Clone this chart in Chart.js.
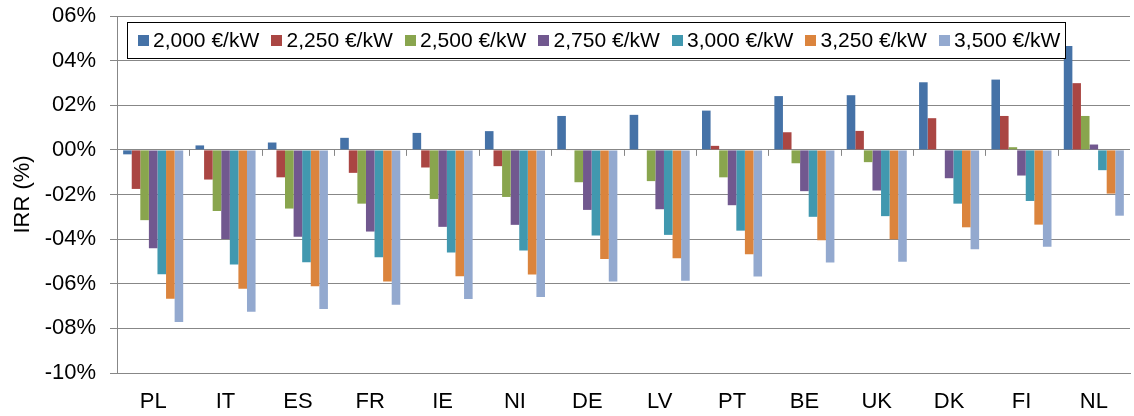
<!DOCTYPE html>
<html><head><meta charset="utf-8">
<script src="https://cdn.jsdelivr.net/npm/chart.js@4"></script>
<style>html,body{margin:0;padding:0;background:#fff}#wrap{width:1134px;height:416px;position:relative}</style>
</head><body><div id="wrap"><canvas id="c"></canvas></div>
<script>
const categories = ['PL','IT','ES','FR','IE','NI','DE','LV','PT','BE','UK','DK','FI','NL'];
const seriesLabels = ['2,000 €/kW','2,250 €/kW','2,500 €/kW','2,750 €/kW','3,000 €/kW','3,250 €/kW','3,500 €/kW'];
const s2000 = [-0.2, 0.2, 0.33, 0.54, 0.76, 0.84, 1.52, 1.57, 1.76, 2.41, 2.45, 3.03, 3.15, 4.66];
const s2250 = [-1.75, -1.33, -1.23, -1.03, -0.79, -0.73, -0.02, 0, 0.18, 0.79, 0.85, 1.42, 1.52, 2.99];
const s2500 = [-3.15, -2.74, -2.63, -2.41, -2.2, -2.11, -1.45, -1.4, -1.23, -0.6, -0.55, 0, 0.12, 1.52];
const s2750 = [-4.41, -3.99, -3.89, -3.66, -3.45, -3.36, -2.69, -2.66, -2.48, -1.85, -1.82, -1.27, -1.15, 0.24];
const s3000 = [-5.57, -5.14, -5.04, -4.81, -4.6, -4.51, -3.84, -3.81, -3.62, -3.0, -2.97, -2.41, -2.29, -0.91];
const s3250 = [-6.67, -6.22, -6.11, -5.9, -5.66, -5.59, -4.89, -4.86, -4.68, -4.05, -4.0, -3.47, -3.35, -1.96];
const s3500 = [-7.71, -7.25, -7.13, -6.94, -6.68, -6.59, -5.9, -5.86, -5.68, -5.05, -5.01, -4.45, -4.34, -2.95];
const seriesValues = [s2000, s2250, s2500, s2750, s3000, s3250, s3500];
const colors = ['#4572A7','#AA4643','#89A54E','#71588F','#4198AF','#DB843D','#93A9CF'];
const yMin = -10, yMax = 6, yStep = 2;
const yTitle = 'IRR (%)';

const FONT = "'Liberation Sans', Arial, sans-serif";
const GRID = '#878787';

function fmtTick(v) {
  const a = Math.abs(Math.round(v));
  return (v < 0 ? '-' : '') + String(a).padStart(2, '0') + '%';
}

const zeroTicks = {
  id: 'zeroTicks',
  afterDatasetsDraw(chart) {
    const xs = chart.scales.x, ys = chart.scales.y, ctx = chart.ctx;
    const y0 = ys.getPixelForValue(0);
    const step = xs.getPixelForValue(1) - xs.getPixelForValue(0);
    ctx.save();
    ctx.strokeStyle = GRID; ctx.lineWidth = 1;
    for (let i = 1; i < categories.length; i++) {
      const x = Math.round(xs.getPixelForValue(i) - step / 2) + 0.5;
      ctx.beginPath(); ctx.moveTo(x, y0); ctx.lineTo(x, y0 + 6); ctx.stroke();
    }
    ctx.restore();
  }
};

const boxLegend = {
  id: 'boxLegend',
  afterDraw(chart) {
    const ctx = chart.ctx, ca = chart.chartArea;
    ctx.save();
    ctx.font = '21px ' + FONT;
    const padL = 10, padR = 5, mk = 11, gap = 4.5, itemGap = 11.8;
    let w = padL + padR;
    const tw = seriesLabels.map(t => ctx.measureText(t).width);
    tw.forEach((t, i) => { w += mk + gap + t + (i < tw.length - 1 ? itemGap : 0); });
    const left = Math.round(ca.left + 10) + 0.5, top = Math.round(ca.top + 6) + 0.5, h = 36;
    ctx.fillStyle = '#fff';
    ctx.fillRect(left, top, Math.round(w), h);
    ctx.strokeStyle = '#000'; ctx.lineWidth = 1;
    ctx.strokeRect(left, top, Math.round(w), h);
    let x = left + padL;
    const cy = top + h / 2;
    ctx.textBaseline = 'middle';
    seriesLabels.forEach((t, i) => {
      ctx.fillStyle = colors[i];
      ctx.fillRect(Math.round(x), Math.round(cy - 5.5), mk, 11);
      x += mk + gap;
      ctx.fillStyle = '#000';
      ctx.fillText(t, x, cy + 1);
      x += tw[i] + itemGap;
    });
    ctx.restore();
  }
};

new Chart(document.getElementById('c'), {
  type: 'bar',
  data: {
    labels: categories,
    datasets: seriesValues.map((d, i) => ({
      label: seriesLabels[i],
      data: d,
      backgroundColor: colors[i],
      borderWidth: 0,
      categoryPercentage: 0.83,
      barPercentage: 1.0
    }))
  },
  options: {
    responsive: true,
    maintainAspectRatio: false,
    animation: false,
    layout: { padding: { left: 0, right: 4, top: 16, bottom: 0 } },
    plugins: { legend: { display: false }, tooltip: { enabled: false } },
    scales: {
      x: {
        grid: { display: false, drawTicks: false },
        border: { display: true, color: GRID, width: 1 },
        ticks: { color: '#000', font: { family: FONT, size: 22 }, padding: 16, maxRotation: 0 },
        afterFit(s) { s.height = 43; s.paddingLeft = 0; s.paddingRight = 0; }
      },
      y: {
        min: yMin, max: yMax,
        ticks: { stepSize: yStep, color: '#000', font: { family: FONT, size: 22 }, padding: 14, callback: v => fmtTick(v) },
        grid: { color: GRID, lineWidth: 1, tickLength: 7, drawTicks: true },
        border: { display: true, color: GRID, width: 1 },
        title: { display: true, text: yTitle, color: '#000', font: { family: FONT, size: 22 }, padding: { top: 9.5, bottom: 0 } },
        afterFit(s) { s.width = 117; s.paddingTop = 0; s.paddingBottom = 0; }
      }
    }
  },
  plugins: [zeroTicks, boxLegend]
});
</script>
</body></html>
